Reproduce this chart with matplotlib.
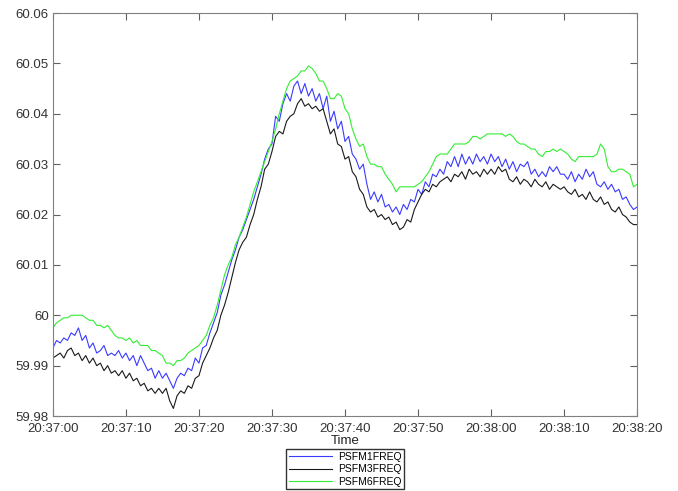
import numpy as np
import pandas as pd
import matplotlib
matplotlib.use("Agg")
import matplotlib.pyplot as plt
import matplotlib.dates as mdates
from matplotlib.ticker import MultipleLocator, FuncFormatter

plt.rcParams['font.family'] = ['Liberation Sans', 'DejaVu Sans']

# samples every 0.5 s from 20:37:00 to 20:38:20, deviation from 60 Hz in mHz
times = pd.date_range('2013-01-01 20:37:00', periods=161, freq='500ms')

psfm1_mhz = [
    -6.5, -5, -5.5, -4.5, -5, -3.5, -4, -2.5, -5, -4,
    -6.5, -5.5, -7.5, -7, -6, -8, -7.5, -8, -7, -8.5,
    -7.5, -9, -8, -10, -8, -9.5, -11, -10.5, -12.5, -11,
    -12.5, -11.5, -13, -14.5, -12.5, -11.5, -12, -10.5, -11, -8.5,
    -9.5, -6.5, -6, -3.5, -1.5, 0.5, 4, 6, 8.5, 11,
    13, 15.5, 17, 19, 21, 23, 25.5, 28, 31, 33,
    34, 39.5, 38.5, 42, 44, 42.5, 45.5, 46.5, 44, 46,
    43.5, 45, 42.5, 44, 41, 43.5, 38.5, 40.5, 37, 38.5,
    34.5, 35.5, 32, 31, 29, 30, 26, 23, 24.5, 22.5,
    24, 21.5, 22, 20.5, 21.5, 20, 22, 21, 23, 22.5,
    25, 24, 26.5, 25.5, 28, 27.5, 29, 28, 30.5, 29.5,
    31.5, 29.5, 32, 30, 31.5, 30, 32, 30.5, 31.5, 30,
    32, 30.5, 31.5, 29.5, 31, 29, 30.5, 28.5, 30, 29.5,
    30.5, 28, 29, 27.5, 28.5, 27.5, 29.5, 28.5, 29.5, 28,
    28, 27, 28.5, 26.5, 28, 27, 29, 27.5, 28.5, 26,
    25.5, 26.5, 25, 26, 24.5, 25, 23, 23.5, 22, 21,
    21.5,
]

psfm3_mhz = [
    -8.5, -8, -7.5, -8.5, -7, -6.5, -8, -7.5, -9, -8,
    -9.5, -8.5, -10, -9.5, -11, -10, -11.5, -11, -12, -11,
    -12.5, -11.5, -13, -12.5, -14, -13.5, -15, -14.5, -15.5, -14.5,
    -15.5, -14.5, -17, -18.5, -16, -15, -15.5, -14, -14.5, -12.5,
    -12, -9.5, -8, -6.5, -4.5, -3, 0, 2, 4.5, 7.5,
    10.5, 13, 14.5, 15.5, 18, 20, 23, 25.5, 29, 30,
    32.5, 35.5, 36.5, 36, 38.5, 39.5, 40, 42, 43, 41.5,
    42, 41, 41.5, 40.5, 41, 38.5, 36, 37, 34, 33.5,
    31, 31.5, 28.5, 27.5, 25, 24, 21.5, 20.5, 21, 19.5,
    20, 19, 19.5, 18, 18.5, 17, 17.5, 19, 18.5, 21,
    22.5, 24, 25, 24.5, 26, 25.5, 26.5, 27, 27.5, 26.5,
    28, 27.5, 28.5, 27, 29, 28, 28.5, 27.5, 29, 28,
    29, 28, 29.5, 28.5, 29, 27, 26.5, 27.5, 26, 27,
    26.5, 25.5, 27, 26, 25.5, 26.5, 25, 26, 25.5, 25,
    25.5, 24.5, 24, 25, 23.5, 24, 23, 24.5, 23, 22.5,
    23.5, 22, 22.5, 21, 20.5, 21.5, 20, 19.5, 18.5, 18,
    18,
]

psfm6_mhz = [
    -2.5, -1.5, -1, -0.5, -0.5, 0, 0, 0, 0, -0.5,
    -1, -1, -2, -2, -2.5, -2, -3, -4, -4.5, -4.5,
    -5, -4.5, -5.5, -5, -6, -6, -6, -7, -7, -7.5,
    -8, -9.5, -9.5, -10, -9, -9, -8.5, -7.5, -7, -6.5,
    -6, -5, -4, -2, -0.5, 2, 5, 8, 10, 11.5,
    14, 15.5, 17.5, 19.5, 22, 24.5, 26.5, 28.5, 30.5, 32.5,
    34.5, 37, 40, 42.5, 45, 46.5, 47, 47.5, 48.5, 48.5,
    49.5, 49, 48, 46.5, 46.5, 45, 43, 43, 44, 43.5,
    41, 40, 37, 35, 33.5, 34, 31.5, 30, 30, 29.5,
    29.5, 28, 27, 26, 24.5, 25.5, 25.5, 25.5, 25.5, 25.5,
    26, 26.5, 27.5, 28.5, 30, 31.5, 32, 32, 32, 33,
    34, 34, 34, 34, 34.5, 35.5, 35.5, 35, 35.5, 36,
    36, 36, 36, 36, 35.5, 36, 35.5, 34.5, 34, 34,
    33.5, 33, 33, 32, 31.5, 32.5, 32.5, 33, 32.5, 33,
    32.5, 32, 31, 30.5, 31.5, 31.5, 31.5, 31.5, 31.5, 32,
    34, 33, 29.5, 28.5, 28.5, 29, 29, 28.5, 28, 25.5,
    26,
]

names = ['PSFM1FREQ', 'PSFM3FREQ', 'PSFM6FREQ']
colors = ['#3a3aff', '#1a1a1a', '#33ee33']
series = [psfm1_mhz, psfm3_mhz, psfm6_mhz]

fig = plt.figure(figsize=(6.78, 4.91), dpi=100)
ax = fig.add_axes([0.078, 0.1527, 0.8617, 0.8208])

for vals, name, c in zip(series, names, colors):
    freq = 60 + np.array(vals) / 1000.0
    ax.plot(times, freq, color=c, lw=0.8, label=name)

ax.set_xlim(pd.Timestamp('2013-01-01 20:37:00'), pd.Timestamp('2013-01-01 20:38:20'))
ax.set_ylim(59.98, 60.06)
ax.xaxis.set_major_locator(mdates.SecondLocator(bysecond=range(0, 60, 10)))
ax.xaxis.set_major_formatter(mdates.DateFormatter('%H:%M:%S'))
ax.yaxis.set_major_locator(MultipleLocator(0.01))
ax.yaxis.set_major_formatter(FuncFormatter(lambda v, p: '%g' % round(v, 2)))

for s in ax.spines.values():
    s.set_color('#808080')
ax.tick_params(direction='in', top=True, right=True, length=5, width=0.8,
               color='#606060', labelsize=9.5, labelcolor='#333333')
ax.tick_params(axis='x', pad=5)
ax.tick_params(axis='y', pad=3)

ax.set_xlabel('Time', fontsize=9.5, color='#222222', labelpad=0)

fig.legend(loc='upper center', bbox_to_anchor=(0.5088, 0.0855), fontsize=7.5,
           frameon=True, fancybox=False, edgecolor='#333333', framealpha=1,
           handlelength=4.2, handletextpad=0.5, labelspacing=0.25,
           borderpad=0.25, borderaxespad=0)

fig.savefig('out.png', dpi=100)
